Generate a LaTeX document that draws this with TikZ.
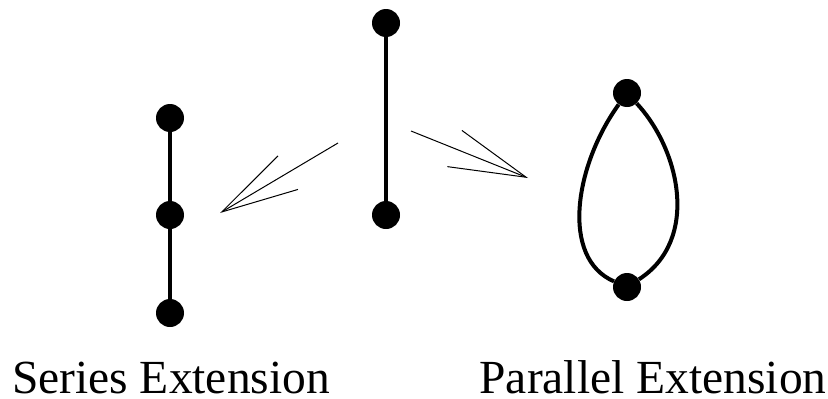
\documentclass[tikz,border=0pt]{standalone}
\usepackage{fontspec}
\setmainfont{Liberation Serif}
\usetikzlibrary{arrows.meta}
\tikzset{>={Straight Barb[length=77pt, width=39pt]}}
\tikzset{
	dot/.style={circle, fill, inner sep=0pt, minimum size=28pt},
	edge/.style={line width=4pt},
	ext/.style={line width=1pt, ->},
	caption/.style={anchor=base, inner sep=0pt, font=\fontsize{47.5}{56}\selectfont}
}

\begin{document}
\begin{tikzpicture}[x=1pt, y=-1pt]
    \useasboundingbox(0, 0) rectangle (828, 399);
    % single edge
    \node[dot](m1) at(386, 23){};
    \node[dot](m2) at(386, 215){};
    \draw[edge](m1)--(m2);
    % series
    \node[dot](s1) at(170, 118){};
    \node[dot](s2) at(170, 215){};
    \node[dot](s3) at(170, 313){};
    \draw[edge](s1)--(s2)--(s3);
    % parallel
    \node[dot](p1) at(627, 93){};
    \node[dot](p2) at(627, 287){};
    \draw[edge](p1) .. controls (575, 165) and (560, 258) .. (p2);
    \draw[edge](p1) .. controls (680, 150) and (700, 240) .. (p2);
    % arrows
    \coordinate(sa) at(338, 143);
    \coordinate(sb) at(220, 213);
    \coordinate(pa) at(411, 131);
    \coordinate(pb) at(528, 178);
    \draw[ext](sa)--(sb);
    \draw[ext](pa)--(pb);
    \node[caption](sl) at(171, 393){Series Extension};
    \node[caption](pl) at(653, 393){Parallel Extension};
\end{tikzpicture}
\end{document}
